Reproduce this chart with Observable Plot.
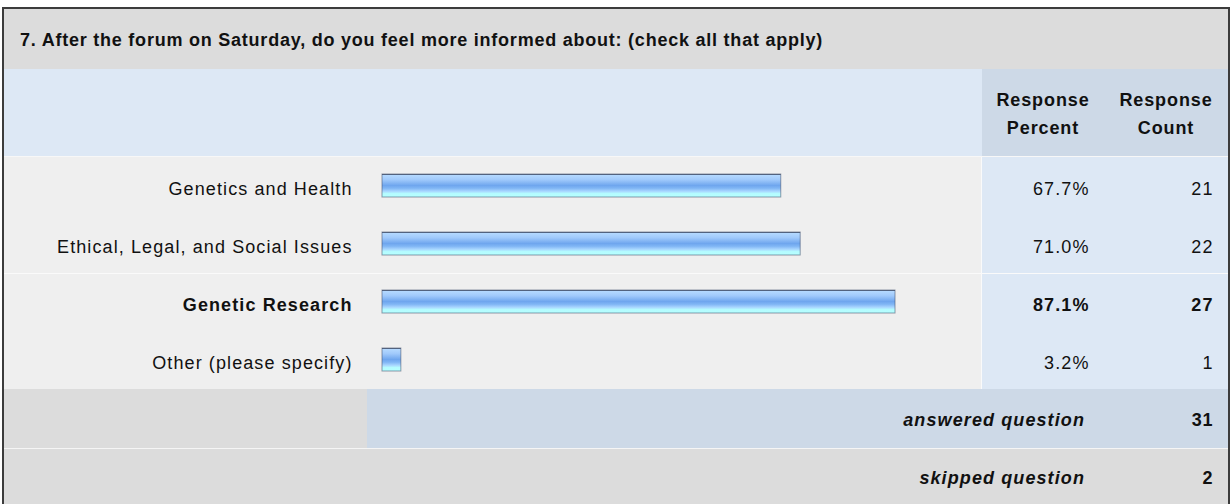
<!DOCTYPE html>
<html>
<head>
<meta charset="utf-8">
<script src="https://cdn.jsdelivr.net/npm/d3@7"></script>
<script src="https://cdn.jsdelivr.net/npm/@observablehq/plot@0.6"></script>
<style>
  html, body { margin: 0; padding: 0; background: #fff; }
  body { width: 1231px; height: 504px; overflow: hidden; font-family: "Liberation Sans", Arial, sans-serif; color: #111; }
  #wrap { position: absolute; left: 0; top: 0; width: 1231px; height: 504px; }
  .box { position: absolute; }
  .txt { position: absolute; white-space: nowrap; }
</style>
</head>
<body>
<div id="wrap"></div>
<script>
const title = "7. After the forum on Saturday, do you feel more informed about: (check all that apply)";
const columnHeads = ["Response\nPercent", "Response\nCount"];
const categories = ["Genetics and Health", "Ethical, Legal, and Social Issues", "Genetic Research", "Other (please specify)"];
const percents = [67.7, 71.0, 87.1, 3.2];
const counts = [21, 22, 27, 1];
const boldRows = [false, false, true, false];
const footerLabels = ["answered question", "skipped question"];
const footerValues = [31, 2];

const rows = categories.map((c, i) => ({category: c, percent: percents[i], count: counts[i], bold: boldRows[i]}));

const wrap = document.getElementById("wrap");
function box(x, y, w, h, bg) {
  const d = document.createElement("div");
  d.className = "box";
  Object.assign(d.style, {left: x + "px", top: y + "px", width: w + "px", height: h + "px", background: bg});
  wrap.appendChild(d);
  return d;
}
function txt(s, x, y, opts = {}) {
  const d = document.createElement("div");
  d.className = "txt";
  d.textContent = s;
  Object.assign(d.style, {left: x + "px", top: y + "px"}, opts);
  wrap.appendChild(d);
  return d;
}

// outer frame
box(2, 7, 1228, 497, "#3c3c3c");
// title bar
box(4, 9, 1224, 60, "#dcdcdc");
// header
box(4, 69, 1224, 87, "#dde8f5");
box(982, 69, 246, 87, "#cdd9e7");
// separator white
box(4, 156, 1224, 1, "#f7f7f7");
// data rows
box(4, 157, 1224, 232, "#efefef");
box(981, 157, 1, 232, "#fafafa");
box(982, 157, 246, 232, "#dde8f5");
box(4, 273, 1224, 1, "#fafafa");
// footer rows
box(4, 389, 1224, 59, "#dcdcdc");
box(367, 389, 861, 59, "#cdd9e7");
box(4, 448, 1224, 1, "#f5f5f5");
box(4, 449, 1224, 55, "#dcdcdc");

// title
txt(title, 20, 30, {fontSize: "18px", fontWeight: "bold", letterSpacing: "0.77px"});
// column heads
const headCenters = [1043, 1166];
columnHeads.forEach((h, i) => {
  const d = txt("", headCenters[i] - 70, 86, {width: "140px", textAlign: "center", fontSize: "18px", fontWeight: "bold", lineHeight: "28px", letterSpacing: "0.9px", whiteSpace: "pre"});
  d.textContent = h;
});
// footer text
footerLabels.forEach((l, i) => {
  const y = i === 0 ? 410 : 468;
  txt(l, 785, y, {width: "300px", textAlign: "right", fontSize: "18px", fontWeight: "bold", fontStyle: "italic", letterSpacing: "1.1px"});
  txt(String(footerValues[i]), 1113, y, {width: "100px", textAlign: "right", fontSize: "18px", fontWeight: "bold", letterSpacing: "0.6px"});
});

// Bars via Plot
const defs = () => {
  const g = d3.create("svg:defs");
  const lg = g.append("linearGradient").attr("id", "barGrad").attr("x1", 0).attr("y1", 0).attr("x2", 0).attr("y2", 1);
  [[0, "#5a6a86"], [0.05, "#5a6a86"], [0.06, "#b3d8ff"], [0.25, "#a0c9fb"], [0.5, "#6fa6ee"], [0.62, "#80b6f5"], [0.75, "#a9d6ff"], [0.85, "#b4fcff"], [1, "#b6ffff"]]
    .forEach(([o, c]) => lg.append("stop").attr("offset", o).attr("stop-color", c));
  return g.node();
};

const plot = Plot.plot({
  width: 1224,
  height: 232,
  marginLeft: 378,
  marginRight: 257,
  marginTop: 0,
  marginBottom: 0,
  style: {background: "transparent", overflow: "visible", fontFamily: "Liberation Sans, Arial, sans-serif", fontSize: "18px", color: "#111"},
  x: {domain: [0, 100], axis: null},
  y: {domain: categories, axis: null, paddingInner: 0.6, paddingOuter: 0.3},
  marks: [
    defs,
    Plot.barX(rows, {x: "percent", y: "category", fill: "url(#barGrad)", stroke: "#3f4f6c", strokeWidth: 1, strokeOpacity: 0.55}),
    Plot.text(rows.filter(d => !d.bold), {y: "category", text: "category", frameAnchor: "left", dx: -30, dy: 3, textAnchor: "end", fill: "#111"}),
    Plot.text(rows.filter(d => d.bold), {y: "category", text: "category", frameAnchor: "left", dx: -30, dy: 3, textAnchor: "end", fill: "#111", fontWeight: "bold"}),
    Plot.text(rows.filter(d => !d.bold), {y: "category", text: d => d.percent.toFixed(1) + "%", frameAnchor: "right", dx: 118, dy: 3, textAnchor: "end", fill: "#111"}),
    Plot.text(rows.filter(d => d.bold), {y: "category", text: d => d.percent.toFixed(1) + "%", frameAnchor: "right", dx: 118, dy: 3, textAnchor: "end", fill: "#111", fontWeight: "bold"}),
    Plot.text(rows.filter(d => !d.bold), {y: "category", text: d => String(d.count), frameAnchor: "right", dx: 242, dy: 3, textAnchor: "end", fill: "#111"}),
    Plot.text(rows.filter(d => d.bold), {y: "category", text: d => String(d.count), frameAnchor: "right", dx: 242, dy: 3, textAnchor: "end", fill: "#111", fontWeight: "bold"})
  ]
});
plot.style.position = "absolute";
plot.style.left = "4px";
plot.style.top = "157px";
plot.style.letterSpacing = "1.1px";
wrap.appendChild(plot);
</script>
</body>
</html>
